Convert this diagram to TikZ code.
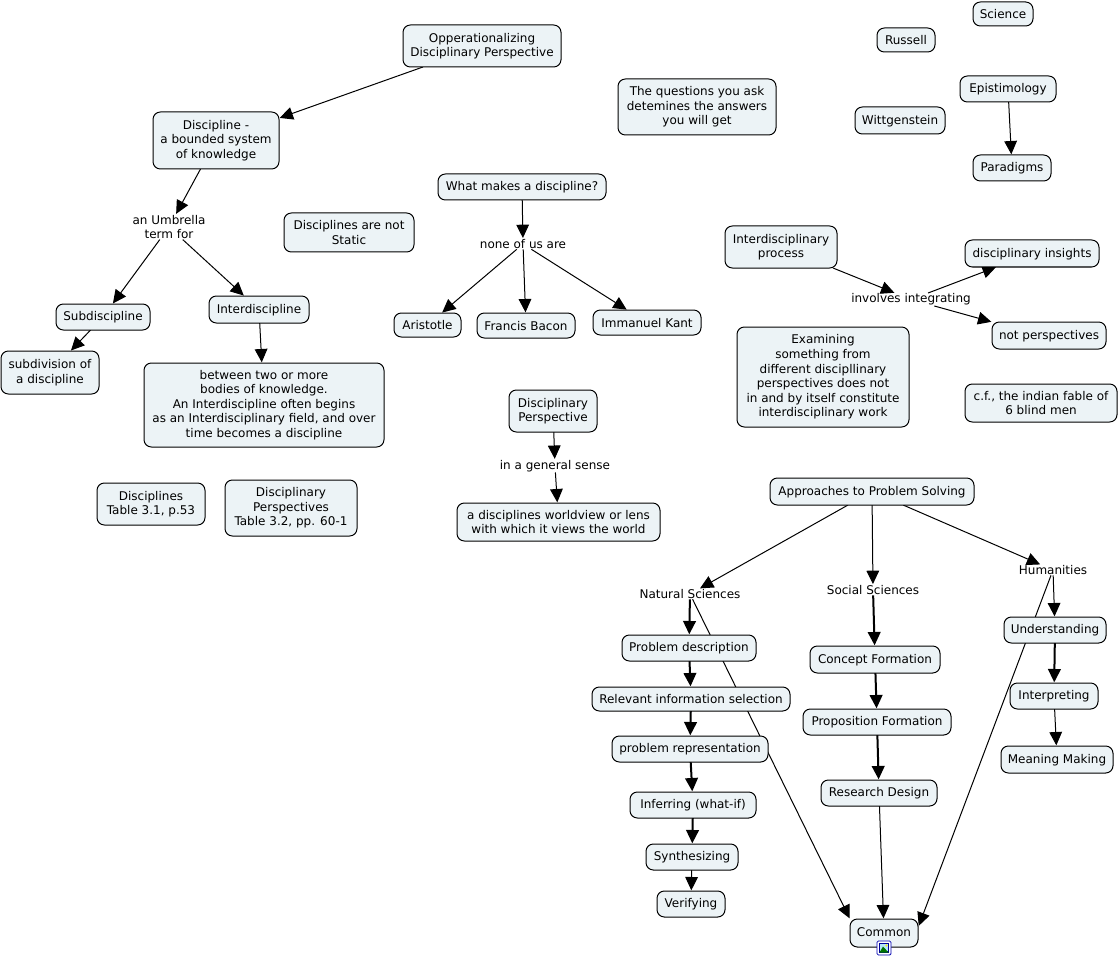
\documentclass[tikz,border=0pt]{standalone}
\usepackage{fontspec}
\setmainfont{DejaVu Sans}
\usetikzlibrary{arrows.meta,backgrounds}
\begin{document}
\begin{tikzpicture}[
  x = 0.75pt,
  y = -0.75pt,
  concept/.style = {
    shape = rectangle,
    draw = black,
    fill = conceptfill,
    rounded corners = 5.5pt,
    line width = 0.75pt,
    align = center,
    inner sep = 0pt,
    outer sep = 0pt,
    font = \fontsize{9}{10.9}\selectfont,
    execute at begin node = {\rule{0pt}{7.5pt}},
  },
  phrase/.style = {
    shape = rectangle,
    align = center,
    inner sep = 0.5pt,
    outer sep = 0pt,
    font = \fontsize{9}{10.9}\selectfont,
  },
  conn/.style = {
    line width = 0.75pt,
    -{Triangle[length = 10pt, width = 9.5pt]},
    shorten >= 0.5pt,
  },
  heavy/.style = { line width = 1.5pt }
]
  \definecolor{conceptfill}{HTML}{ECF3F6}
  \useasboundingbox (0, 0) rectangle (1120, 959);

  % left part
  \node[concept, minimum width = 118.5pt, minimum height = 31.5pt] (oper) at (482, 46) {Opperationalizing\\Disciplinary Perspective};
  \node[concept, minimum width = 94.5pt, minimum height = 42.75pt] (discipline) at (216, 140.5) {Discipline -\\a bounded system\\of knowledge};
  \node[phrase] (umbrella) at (169, 227) {an Umbrella\\term for};
  \node[concept, minimum width = 97.5pt, minimum height = 29.25pt] (static) at (349, 232.5) {Disciplines are not\\Static};
  \node[concept, minimum width = 70.5pt, minimum height = 19.5pt] (subdisc) at (103, 317) {Subdiscipline};
  \node[concept, minimum width = 75pt, minimum height = 20.25pt] (interdisc) at (259, 309.5) {Interdiscipline};
  \node[concept, minimum width = 73.5pt, minimum height = 32.25pt] (subdiv) at (50, 372.5) {subdivision of\\a discipline};
  \node[concept, minimum width = 180pt, minimum height = 63pt] (between) at (264, 405) {between two or more\\bodies of knowledge.\\An Interdiscipline often begins\\as an Interdisciplinary field, and over\\time becomes a discipline};
  \node[concept, minimum width = 81pt, minimum height = 31.5pt] (table31) at (151, 504) {Disciplines\\Table 3.1, p.53};
  \node[concept, minimum width = 99pt, minimum height = 42pt] (table32) at (291, 508) {Disciplinary\\Perspectives\\Table 3.2, pp. 60-1};

  % middle part
  \node[concept, minimum width = 126pt, minimum height = 19.5pt] (makes) at (522, 187) {What makes a discipline?};
  \node[phrase] (noneofus) at (523, 244) {none of us are};
  \node[concept, minimum width = 50.25pt, minimum height = 18pt] (aristotle) at (427.5, 325) {Aristotle};
  \node[concept, minimum width = 73.5pt, minimum height = 18.75pt] (bacon) at (526, 325.5) {Francis Bacon};
  \node[concept, minimum width = 81pt, minimum height = 18.75pt] (kant) at (647, 322.5) {Immanuel Kant};
  \node[concept, minimum width = 66pt, minimum height = 31.5pt] (perspective) at (553, 411) {Disciplinary\\Perspective};
  \node[phrase] (general) at (555, 466) {in a general sense};
  \node[concept, minimum width = 152.25pt, minimum height = 28.5pt] (worldview) at (558.5, 522) {a disciplines worldview or lens\\with which it views the world};
  \node[concept, minimum width = 118.5pt, minimum height = 42pt] (questions) at (697, 107) {The questions you ask\\detemines the answers\\you will get};

  % upper right part
  \node[concept, minimum width = 43.5pt, minimum height = 18pt] (russell) at (906, 40) {Russell};
  \node[concept, minimum width = 45pt, minimum height = 18pt] (science) at (1003, 14) {Science};
  \node[concept, minimum width = 72pt, minimum height = 19.5pt] (epistimology) at (1008, 89) {Epistimology};
  \node[concept, minimum width = 67.5pt, minimum height = 20.25pt] (wittgenstein) at (900, 120.5) {Wittgenstein};
  \node[concept, minimum width = 58.5pt, minimum height = 19.5pt] (paradigms) at (1012, 168) {Paradigms};
  \node[concept, minimum width = 84pt, minimum height = 31.5pt] (process) at (781, 247) {Interdisciplinary\\process};
  \node[concept, minimum width = 100.5pt, minimum height = 20.25pt] (insights) at (1032, 253.5) {disciplinary insights};
  \node[phrase] (integrating) at (911, 299.5) {involves integrating};
  \node[concept, minimum width = 85.5pt, minimum height = 20.25pt] (notpersp) at (1049, 335.5) {not perspectives};
  \node[concept, minimum width = 129pt, minimum height = 75pt] (examining) at (823, 377) {Examining\\something from\\different discipllinary\\perspectives does not\\in and by itself constitute\\interdisciplinary work};
  \node[concept, minimum width = 114pt, minimum height = 28.5pt] (fable) at (1041, 403) {c.f., the indian fable of\\6 blind men};

  % lower right part
  \node[concept, minimum width = 153pt, minimum height = 20.25pt] (approaches) at (872, 491.5) {Approaches to Problem Solving};
  \node[phrase] (natural) at (690, 594) {Natural Sciences};
  \node[phrase] (social) at (873, 590) {Social Sciences};
  \node[phrase] (humanities) at (1053, 570) {Humanities};
  \node[concept, minimum width = 100.5pt, minimum height = 19.5pt] (description) at (689, 648) {Problem description};
  \node[concept, minimum width = 148.5pt, minimum height = 18pt] (relevant) at (691, 699) {Relevant information selection};
  \node[concept, minimum width = 117pt, minimum height = 19.5pt] (representation) at (690, 749) {problem representation};
  \node[concept, minimum width = 94.5pt, minimum height = 19.5pt] (inferring) at (693, 805) {Inferring (what-if)};
  \node[concept, minimum width = 69pt, minimum height = 19.5pt] (synthesizing) at (692, 857) {Synthesizing};
  \node[concept, minimum width = 51pt, minimum height = 19.5pt] (verifying) at (691, 904) {Verifying};
  \node[concept, minimum width = 97.5pt, minimum height = 20.25pt] (formation) at (875, 659.5) {Concept Formation};
  \node[concept, minimum width = 111pt, minimum height = 19.5pt] (proposition) at (877, 722) {Proposition Formation};
  \node[concept, minimum width = 87pt, minimum height = 19.5pt] (design) at (879, 793) {Research Design};
  \node[concept, minimum width = 76.5pt, minimum height = 19.5pt] (understanding) at (1055, 630) {Understanding};
  \node[concept, minimum width = 66pt, minimum height = 19.5pt] (interpreting) at (1054, 696) {Interpreting};
  \node[concept, minimum width = 84pt, minimum height = 20.25pt] (meaning) at (1057, 759.5) {Meaning Making};
  \node[concept, minimum width = 51pt, minimum height = 21pt] (common) at (884, 933) {\raisebox{2pt}{Common}};
  \coordinate (commonside) at (918.5, 926.5);

  % image marker under the last node
  \node[draw = blue!70!black, fill = white, rounded corners = 1pt, line width = 0.6pt, minimum size = 10.5pt, inner sep = 0pt] (icon) at (884, 948) {};
  \fill[blue!60!black] (879, 943) rectangle (889, 953);
  \fill[cyan!30!white] (880, 944) rectangle (888, 951);
  \fill[green!45!black] (879.5, 952.5) -- (883, 946.5) -- (888.5, 952.5) -- cycle;
  \fill[yellow!90!orange] (886.5, 945.5) circle (0.9pt);

  \begin{pgfonlayer}{background}
    \draw[conn] (oper) -- (discipline);
    \draw[conn] (discipline) -- (umbrella);
    \draw[conn] (umbrella) -- (subdisc);
    \draw[conn] (umbrella) -- (interdisc);
    \draw[conn] (subdisc) -- (subdiv);
    \draw[conn] (interdisc) -- (between);
    \draw[conn] (makes) -- (noneofus);
    \draw[conn] (noneofus) -- (aristotle);
    \draw[conn] (noneofus) -- (bacon);
    \draw[conn] (noneofus) -- (kant);
    \draw[conn] (perspective) -- (general);
    \draw[conn] (general) -- (worldview);
    \draw[conn] (epistimology) -- (paradigms);
    \draw[conn] (process) -- (integrating);
    \draw[conn] (integrating) -- (insights);
    \draw[conn] (integrating) -- (notpersp.north west);
    \draw[conn] (approaches) -- (natural);
    \draw[conn] (approaches) -- (social);
    \draw[conn] (approaches) -- (humanities);
    \draw[conn] (natural) -- (common.north west);
    \draw[conn] (design) -- (common);
    \draw[conn] (humanities) -- (commonside);
    \draw[conn] (humanities) -- (understanding);
    \draw[conn] (interpreting) -- (meaning);
    \draw[conn] (synthesizing) -- (verifying);

    \begin{scope}[every path/.style = { heavy }]
      \draw[conn, heavy] (natural) -- (description);
      \draw[conn, heavy] (description) -- (relevant);
      \draw[conn, heavy] (relevant) -- (representation);
      \draw[conn, heavy] (representation) -- (inferring);
      \draw[conn, heavy] (inferring) -- (synthesizing);
      \draw[conn, heavy] (social) -- (formation);
      \draw[conn, heavy] (formation) -- (proposition);
      \draw[conn, heavy] (proposition) -- (design);
      \draw[conn, heavy] (understanding) -- (interpreting);
    \end{scope}
  \end{pgfonlayer}
\end{tikzpicture}
\end{document}
